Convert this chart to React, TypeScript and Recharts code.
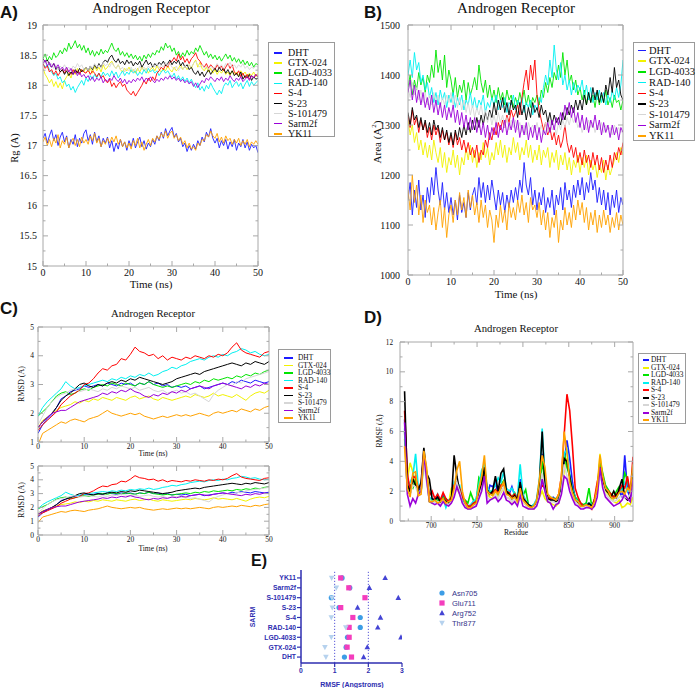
import React from "react";
import { LineChart, Line, XAxis, YAxis, ScatterChart, Scatter, ReferenceLine } from "recharts";

const SERIF = '"Liberation Serif", "Times New Roman", serif';
const SANS = '"Liberation Sans", Arial, sans-serif';

const SARMS = ["DHT", "GTX-024", "LGD-4033", "RAD-140", "S-4", "S-23", "S-101479", "Sarm2f", "YK11"];
const COLORS = ["#1c1cff", "#f2f200", "#00e400", "#00f0f0", "#ff0000", "#000000", "#d6d6d6", "#9a00d8", "#ffa200"];

// sampling grids (time in ns, residue number)
const TIME_HALF = Array.from({ length: 101 }, (_, i) => i / 2);
const TIME_NS = Array.from({ length: 51 }, (_, i) => i);
const RESIDUES = Array.from({ length: 84 }, (_, i) => 671 + 3 * i);

// ---- A) radius of gyration (A), every 0.5 ns
const rgDHT = [
  17.12, 17.20, 17.04, 17.16, 17.26, 17.08, 17.18, 17.00, 17.14, 17.22,
  17.06, 17.16, 16.96, 17.10, 17.02, 17.18, 16.98, 17.12, 17.04, 17.20,
  17.26, 17.08, 17.18, 17.02, 17.22, 17.06, 17.16, 16.98, 17.12, 17.04,
  17.14, 16.96, 17.08, 16.90, 17.04, 16.94, 17.10, 16.98, 17.06, 16.92,
  17.08, 16.98, 17.12, 16.96, 17.06, 17.14, 16.98, 17.08, 16.94, 17.04,
  16.98, 17.10, 17.02, 17.16, 17.08, 17.22, 17.12, 17.28, 17.16, 17.24,
  17.30, 17.14, 17.20, 17.06, 17.12, 16.98, 17.04, 16.90, 17.00, 16.92,
  17.02, 16.94, 17.08, 17.00, 17.14, 17.06, 17.22, 17.14, 17.28, 17.12,
  17.04, 17.12, 16.96, 17.08, 17.00, 17.10, 16.94, 17.06, 16.98, 17.10,
  16.92, 17.04, 16.98, 17.10, 16.96, 17.06, 16.92, 17.02, 16.96, 17.00,
  16.88,
];
const rgGTX = [
  18.28, 18.18, 18.12, 18.04, 18.10, 17.98, 18.06, 17.96, 18.04, 17.94,
  18.08, 18.14, 18.20, 18.12, 18.24, 18.18, 18.28, 18.20, 18.26, 18.22,
  18.30, 18.22, 18.28, 18.20, 18.32, 18.24, 18.30, 18.22, 18.34, 18.26,
  18.30, 18.36, 18.40, 18.32, 18.28, 18.34, 18.26, 18.22, 18.28, 18.24,
  18.30, 18.22, 18.26, 18.20, 18.28, 18.22, 18.30, 18.24, 18.28, 18.20,
  18.26, 18.30, 18.24, 18.32, 18.26, 18.22, 18.28, 18.24, 18.32, 18.26,
  18.22, 18.30, 18.24, 18.28, 18.34, 18.26, 18.32, 18.26, 18.34, 18.28,
  18.36, 18.42, 18.30, 18.38, 18.28, 18.24, 18.30, 18.22, 18.28, 18.20,
  18.26, 18.18, 18.24, 18.20, 18.26, 18.18, 18.22, 18.16, 18.24, 18.18,
  18.22, 18.16, 18.24, 18.18, 18.22, 18.14, 18.20, 18.16, 18.22, 18.14,
  18.20,
];
const rgLGD = [
  18.44, 18.52, 18.40, 18.48, 18.42, 18.54, 18.46, 18.50, 18.58, 18.52,
  18.62, 18.56, 18.70, 18.60, 18.66, 18.74, 18.62, 18.68, 18.58, 18.66,
  18.54, 18.62, 18.50, 18.58, 18.48, 18.56, 18.50, 18.60, 18.52, 18.58,
  18.54, 18.62, 18.70, 18.60, 18.56, 18.62, 18.50, 18.56, 18.48, 18.54,
  18.46, 18.52, 18.44, 18.50, 18.42, 18.48, 18.40, 18.50, 18.44, 18.52,
  18.46, 18.54, 18.50, 18.58, 18.54, 18.64, 18.58, 18.70, 18.62, 18.66,
  18.56, 18.62, 18.50, 18.56, 18.46, 18.54, 18.48, 18.58, 18.50, 18.56,
  18.52, 18.62, 18.56, 18.66, 18.58, 18.50, 18.56, 18.46, 18.52, 18.44,
  18.50, 18.42, 18.48, 18.40, 18.46, 18.52, 18.44, 18.50, 18.40, 18.46,
  18.38, 18.44, 18.36, 18.42, 18.34, 18.40, 18.32, 18.38, 18.30, 18.36,
  18.34,
];
const rgRAD = [
  18.36, 18.30, 18.34, 18.26, 18.22, 18.16, 18.20, 18.10, 18.14, 18.04,
  18.08, 17.98, 18.02, 17.92, 17.98, 17.88, 17.96, 18.02, 18.08, 18.00,
  18.12, 18.06, 18.16, 18.10, 18.18, 18.12, 18.20, 18.14, 18.22, 18.16,
  18.20, 18.14, 18.24, 18.16, 18.22, 18.12, 18.18, 18.24, 18.16, 18.22,
  18.18, 18.26, 18.20, 18.24, 18.16, 18.22, 18.18, 18.26, 18.20, 18.28,
  18.22, 18.26, 18.20, 18.24, 18.16, 18.22, 18.26, 18.20, 18.24, 18.18,
  18.14, 18.20, 18.10, 18.16, 18.08, 18.14, 18.06, 18.12, 18.04, 18.10,
  18.02, 17.96, 18.04, 17.92, 17.98, 17.90, 18.00, 17.94, 18.04, 17.96,
  17.90, 17.84, 17.92, 17.86, 17.98, 18.04, 18.00, 18.08, 17.96, 18.02,
  18.06, 17.98, 18.04, 17.94, 18.02, 18.08, 17.98, 18.06, 18.00, 18.04,
  18.08,
];
const rgS4 = [
  18.36, 18.28, 18.32, 18.22, 18.26, 18.18, 18.24, 18.16, 18.22, 18.26,
  18.20, 18.28, 18.22, 18.18, 18.26, 18.20, 18.24, 18.18, 18.26, 18.22,
  18.20, 18.26, 18.18, 18.24, 18.20, 18.14, 18.20, 18.12, 18.16, 18.08,
  18.04, 18.10, 17.98, 18.04, 17.96, 18.02, 18.06, 17.98, 18.02, 17.92,
  17.88, 17.84, 17.90, 17.82, 17.88, 17.94, 18.00, 18.08, 18.02, 18.12,
  18.06, 18.14, 18.08, 18.20, 18.24, 18.30, 18.26, 18.34, 18.30, 18.38,
  18.40, 18.46, 18.40, 18.52, 18.42, 18.48, 18.38, 18.44, 18.36, 18.44,
  18.48, 18.54, 18.44, 18.40, 18.34, 18.30, 18.36, 18.28, 18.34, 18.30,
  18.26, 18.34, 18.28, 18.32, 18.24, 18.30, 18.36, 18.28, 18.34, 18.22,
  18.18, 18.24, 18.14, 18.20, 18.12, 18.18, 18.10, 18.16, 18.12, 18.18,
  18.14,
];
const rgS23 = [
  18.44, 18.38, 18.42, 18.34, 18.30, 18.36, 18.26, 18.30, 18.22, 18.26,
  18.18, 18.24, 18.16, 18.22, 18.18, 18.26, 18.20, 18.28, 18.22, 18.26,
  18.30, 18.24, 18.32, 18.26, 18.34, 18.28, 18.36, 18.30, 18.38, 18.42,
  18.38, 18.46, 18.50, 18.42, 18.38, 18.44, 18.36, 18.40, 18.34, 18.42,
  18.36, 18.40, 18.32, 18.38, 18.34, 18.40, 18.30, 18.36, 18.42, 18.34,
  18.38, 18.30, 18.36, 18.32, 18.38, 18.34, 18.40, 18.32, 18.36, 18.42,
  18.34, 18.40, 18.36, 18.42, 18.32, 18.38, 18.30, 18.34, 18.26, 18.30,
  18.22, 18.18, 18.24, 18.16, 18.22, 18.14, 18.20, 18.26, 18.18, 18.24,
  18.28, 18.22, 18.30, 18.24, 18.28, 18.20, 18.26, 18.18, 18.24, 18.16,
  18.20, 18.14, 18.22, 18.10, 18.16, 18.12, 18.18, 18.08, 18.14, 18.10,
  18.12,
];
const rgS101 = [
  18.42, 18.36, 18.40, 18.32, 18.36, 18.28, 18.34, 18.26, 18.32, 18.28,
  18.34, 18.26, 18.30, 18.24, 18.32, 18.28, 18.36, 18.30, 18.34, 18.26,
  18.30, 18.24, 18.32, 18.28, 18.36, 18.30, 18.34, 18.28, 18.38, 18.32,
  18.36, 18.30, 18.38, 18.32, 18.28, 18.34, 18.26, 18.30, 18.22, 18.28,
  18.24, 18.30, 18.22, 18.28, 18.24, 18.32, 18.26, 18.30, 18.24, 18.32,
  18.28, 18.34, 18.30, 18.36, 18.28, 18.34, 18.30, 18.38, 18.32, 18.36,
  18.30, 18.26, 18.32, 18.24, 18.30, 18.26, 18.32, 18.28, 18.34, 18.30,
  18.36, 18.40, 18.34, 18.30, 18.34, 18.28, 18.32, 18.26, 18.32, 18.28,
  18.30, 18.36, 18.30, 18.34, 18.28, 18.36, 18.32, 18.38, 18.30, 18.34,
  18.28, 18.34, 18.30, 18.36, 18.28, 18.32, 18.26, 18.30, 18.28, 18.32,
  18.30,
];
const rgSarm = [
  18.36, 18.42, 18.32, 18.38, 18.30, 18.36, 18.28, 18.34, 18.26, 18.30,
  18.24, 18.30, 18.22, 18.28, 18.18, 18.24, 18.16, 18.22, 18.14, 18.18,
  18.12, 18.16, 18.08, 18.14, 18.06, 18.12, 18.08, 18.14, 18.04, 18.10,
  18.06, 18.12, 18.08, 18.16, 18.10, 18.06, 18.12, 18.04, 18.10, 18.02,
  18.08, 18.04, 18.10, 18.06, 18.12, 18.08, 18.14, 18.06, 18.12, 18.08,
  18.14, 18.08, 18.04, 18.10, 18.06, 18.12, 18.08, 18.14, 18.10, 18.16,
  18.10, 18.14, 18.08, 18.12, 18.06, 18.10, 18.04, 18.08, 18.02, 18.06,
  17.98, 18.04, 17.96, 18.02, 18.08, 18.04, 18.12, 18.08, 18.14, 18.10,
  18.06, 18.12, 18.08, 18.14, 18.06, 18.12, 18.08, 18.16, 18.10, 18.06,
  18.12, 18.08, 18.14, 18.06, 18.10, 18.14, 18.08, 18.16, 18.12, 18.18,
  18.14,
];
const rgYK11 = [
  17.06, 17.14, 17.00, 17.10, 16.98, 17.12, 17.04, 17.18, 16.96, 17.08,
  17.02, 17.14, 16.96, 17.06, 17.12, 17.00, 17.10, 16.98, 17.14, 17.04,
  17.10, 17.02, 17.16, 17.08, 17.20, 17.04, 17.12, 16.98, 17.08, 17.02,
  17.12, 17.04, 17.14, 17.06, 17.16, 17.02, 17.10, 16.98, 17.06, 16.96,
  17.04, 16.94, 17.08, 17.00, 17.12, 16.96, 17.06, 16.92, 17.02, 17.10,
  17.00, 17.12, 17.06, 17.16, 17.10, 17.20, 17.14, 17.24, 17.12, 17.20,
  17.24, 17.12, 17.18, 17.08, 17.14, 17.02, 17.08, 16.96, 17.04, 16.94,
  16.98, 16.92, 17.04, 17.00, 17.10, 17.08, 17.18, 17.14, 17.24, 17.16,
  17.12, 17.20, 17.06, 17.14, 17.04, 17.16, 17.08, 17.12, 17.02, 17.10,
  17.04, 17.12, 17.00, 17.08, 17.02, 17.10, 16.98, 17.06, 17.02, 17.08,
  17.02,
];

// ---- B) surface area (A^2), every 0.5 ns
const saDHT = [
  1150, 1185, 1120, 1170, 1135, 1190, 1130, 1160, 1115, 1175,
  1145, 1195, 1160, 1215, 1170, 1140, 1185, 1130, 1165, 1125,
  1155, 1120, 1150, 1110, 1160, 1125, 1145, 1115, 1165, 1130,
  1160, 1175, 1140, 1195, 1155, 1185, 1145, 1180, 1150, 1190,
  1160, 1130, 1170, 1140, 1165, 1125, 1160, 1135, 1170, 1145,
  1175, 1150, 1190, 1165, 1225, 1180, 1160, 1195, 1140, 1170,
  1130, 1165, 1140, 1175, 1125, 1155, 1135, 1170, 1120, 1160,
  1140, 1175, 1130, 1185, 1150, 1170, 1135, 1180, 1155, 1190,
  1160, 1195, 1150, 1185, 1165, 1205, 1170, 1190, 1145, 1175,
  1140, 1170, 1130, 1165, 1120, 1160, 1135, 1170, 1125, 1155,
  1140,
];
const saGTX = [
  1310, 1280, 1300, 1265, 1285, 1250, 1270, 1240, 1265, 1235,
  1260, 1230, 1270, 1245, 1225, 1255, 1215, 1245, 1205, 1235,
  1220, 1250, 1215, 1240, 1200, 1235, 1220, 1255, 1230, 1260,
  1225, 1250, 1215, 1245, 1230, 1265, 1235, 1255, 1220, 1245,
  1230, 1265, 1240, 1270, 1235, 1260, 1225, 1255, 1240, 1275,
  1245, 1265, 1230, 1255, 1240, 1270, 1235, 1260, 1225, 1250,
  1230, 1260, 1220, 1250, 1235, 1255, 1215, 1245, 1225, 1250,
  1210, 1240, 1220, 1245, 1210, 1235, 1200, 1230, 1215, 1240,
  1205, 1235, 1215, 1240, 1200, 1230, 1210, 1225, 1195, 1220,
  1205, 1230, 1190, 1220, 1200, 1215, 1230, 1245, 1225, 1255,
  1240,
];
const saLGD = [
  1375, 1400, 1360, 1390, 1370, 1405, 1380, 1395, 1365, 1400,
  1385, 1420, 1395, 1450, 1405, 1430, 1390, 1440, 1375, 1410,
  1390, 1360, 1395, 1355, 1380, 1365, 1390, 1350, 1385, 1360,
  1375, 1395, 1370, 1420, 1385, 1365, 1390, 1355, 1380, 1350,
  1370, 1345, 1375, 1350, 1365, 1340, 1370, 1350, 1360, 1335,
  1355, 1340, 1365, 1345, 1370, 1340, 1360, 1335, 1355, 1345,
  1360, 1340, 1370, 1355, 1385, 1365, 1395, 1375, 1405, 1390,
  1420, 1395, 1445, 1400, 1430, 1385, 1400, 1370, 1390, 1360,
  1375, 1350, 1370, 1340, 1365, 1345, 1360, 1335, 1365, 1340,
  1360, 1345, 1370, 1340, 1355, 1335, 1360, 1345, 1350, 1330,
  1350,
];
const saRAD = [
  1400, 1430, 1395, 1445, 1410, 1425, 1385, 1400, 1370, 1385,
  1355, 1375, 1345, 1365, 1340, 1370, 1350, 1365, 1335, 1360,
  1345, 1365, 1335, 1355, 1340, 1360, 1330, 1350, 1340, 1365,
  1335, 1355, 1330, 1350, 1340, 1360, 1325, 1345, 1335, 1355,
  1340, 1360, 1330, 1350, 1335, 1355, 1325, 1345, 1340, 1360,
  1330, 1350, 1340, 1355, 1325, 1345, 1335, 1350, 1320, 1340,
  1330, 1355, 1345, 1375, 1400, 1380, 1430, 1395, 1460, 1410,
  1390, 1425, 1380, 1400, 1370, 1390, 1360, 1385, 1365, 1380,
  1370, 1390, 1355, 1380, 1350, 1375, 1345, 1365, 1350, 1370,
  1345, 1365, 1340, 1360, 1345, 1370, 1350, 1375, 1355, 1380,
  1430,
];
const saS4 = [
  1320, 1295, 1330, 1300, 1315, 1285, 1310, 1290, 1305, 1275,
  1295, 1270, 1300, 1280, 1295, 1265, 1290, 1270, 1285, 1260,
  1280, 1255, 1285, 1260, 1275, 1250, 1270, 1245, 1265, 1240,
  1255, 1235, 1260, 1225, 1250, 1240, 1270, 1255, 1285, 1270,
  1295, 1280, 1305, 1290, 1310, 1295, 1320, 1305, 1330, 1315,
  1325, 1340, 1320, 1355, 1385, 1410, 1370, 1420, 1390, 1430,
  1360, 1330, 1310, 1290, 1305, 1280, 1295, 1270, 1285, 1260,
  1280, 1255, 1270, 1300, 1265, 1245, 1260, 1235, 1255, 1225,
  1245, 1220, 1250, 1225, 1240, 1215, 1245, 1220, 1240, 1210,
  1235, 1205, 1230, 1210, 1240, 1215, 1245, 1230, 1255, 1240,
  1265,
];
const saS23 = [
  1325, 1300, 1335, 1310, 1320, 1295, 1315, 1290, 1310, 1285,
  1305, 1280, 1310, 1290, 1300, 1275, 1295, 1270, 1290, 1265,
  1285, 1260, 1290, 1270, 1295, 1275, 1300, 1280, 1305, 1285,
  1310, 1290, 1315, 1295, 1320, 1300, 1325, 1310, 1330, 1315,
  1345, 1320, 1350, 1330, 1355, 1325, 1345, 1320, 1350, 1330,
  1340, 1315, 1345, 1320, 1340, 1310, 1335, 1315, 1345, 1325,
  1335, 1315, 1340, 1320, 1330, 1305, 1325, 1300, 1320, 1305,
  1315, 1300, 1325, 1310, 1335, 1320, 1340, 1325, 1350, 1330,
  1350, 1330, 1360, 1340, 1365, 1345, 1375, 1350, 1370, 1345,
  1365, 1345, 1380, 1360, 1395, 1365, 1415, 1375, 1390, 1360,
  1350,
];
const saS101 = [
  1375, 1355, 1385, 1360, 1375, 1350, 1370, 1345, 1365, 1340,
  1360, 1340, 1365, 1345, 1360, 1335, 1355, 1340, 1360, 1345,
  1365, 1340, 1360, 1335, 1355, 1330, 1350, 1325, 1345, 1320,
  1340, 1315, 1335, 1320, 1340, 1315, 1330, 1305, 1325, 1300,
  1320, 1300, 1325, 1305, 1320, 1295, 1315, 1290, 1310, 1295,
  1310, 1290, 1305, 1285, 1300, 1280, 1305, 1290, 1300, 1285,
  1305, 1285, 1300, 1280, 1305, 1285, 1310, 1290, 1300, 1280,
  1305, 1290, 1310, 1295, 1315, 1300, 1320, 1305, 1315, 1295,
  1305, 1285, 1300, 1290, 1310, 1295, 1305, 1285, 1300, 1290,
  1305, 1285, 1300, 1290, 1295, 1280, 1300, 1285, 1295, 1285,
  1290,
];
const saSarm = [
  1365, 1390, 1350, 1380, 1345, 1370, 1340, 1365, 1335, 1355,
  1330, 1360, 1325, 1350, 1320, 1345, 1315, 1340, 1310, 1335,
  1315, 1340, 1305, 1330, 1300, 1325, 1295, 1320, 1290, 1315,
  1290, 1315, 1285, 1310, 1280, 1305, 1275, 1300, 1270, 1295,
  1280, 1305, 1275, 1300, 1285, 1310, 1280, 1305, 1290, 1315,
  1285, 1310, 1275, 1300, 1280, 1305, 1270, 1295, 1275, 1300,
  1270, 1295, 1265, 1290, 1280, 1305, 1285, 1310, 1290, 1315,
  1300, 1325, 1310, 1340, 1320, 1345, 1315, 1335, 1305, 1325,
  1295, 1320, 1290, 1315, 1285, 1310, 1295, 1320, 1290, 1310,
  1280, 1305, 1285, 1300, 1275, 1300, 1280, 1295, 1270, 1295,
  1285,
];
const saYK11 = [
  1170, 1130, 1200, 1145, 1180, 1120, 1160, 1105, 1150, 1125,
  1140, 1100, 1135, 1090, 1125, 1150, 1095, 1135, 1075, 1120,
  1140, 1105, 1150, 1120, 1165, 1130, 1155, 1115, 1170, 1135,
  1160, 1120, 1145, 1105, 1150, 1115, 1140, 1095, 1130, 1110,
  1065, 1120, 1095, 1140, 1105, 1130, 1090, 1145, 1115, 1135,
  1110, 1150, 1125, 1160, 1120, 1145, 1105, 1155, 1130, 1140,
  1115, 1145, 1100, 1130, 1090, 1125, 1075, 1115, 1095, 1130,
  1065, 1110, 1090, 1135, 1100, 1125, 1095, 1140, 1110, 1150,
  1120, 1145, 1105, 1135, 1090, 1125, 1100, 1130, 1085, 1120,
  1095, 1130, 1100, 1120, 1085, 1115, 1095, 1125, 1090, 1120,
  1100,
];

// ---- C) backbone RMSD (A), every 1 ns
const rmsdDHT = [
  1.30, 1.60, 1.80, 1.95, 2.20, 2.50, 2.60, 2.75, 2.80, 2.85,
  2.95, 2.90, 2.95, 3.00, 2.95, 3.05, 3.00, 2.95, 3.05, 3.00,
  3.05, 2.95, 3.05, 3.00, 3.10, 3.00, 3.05, 2.95, 3.00, 2.90,
  2.95, 2.90, 2.95, 2.85, 2.90, 2.95, 2.85, 2.90, 2.95, 3.00,
  3.05, 3.00, 3.10, 3.05, 3.15, 3.10, 3.05, 3.15, 3.10, 3.05,
  3.10,
];
const rmsdGTX = [
  1.50, 1.75, 1.85, 2.00, 2.10, 2.20, 2.25, 2.30, 2.40, 2.35,
  2.45, 2.40, 2.50, 2.45, 2.55, 2.50, 2.45, 2.55, 2.50, 2.45,
  2.55, 2.60, 2.50, 2.55, 2.60, 2.50, 2.45, 2.55, 2.50, 2.45,
  2.50, 2.55, 2.60, 2.55, 2.65, 2.60, 2.55, 2.60, 2.70, 2.60,
  2.65, 2.60, 2.55, 2.65, 2.55, 2.45, 2.60, 2.70, 2.75, 2.70,
  2.80,
];
const rmsdLGD = [
  1.90, 2.05, 2.20, 2.40, 2.60, 2.70, 2.75, 2.65, 2.70, 2.80,
  2.85, 2.80, 2.90, 2.95, 3.00, 2.95, 3.05, 3.00, 2.95, 3.05,
  3.00, 2.95, 3.05, 3.00, 3.10, 3.00, 2.95, 2.90, 2.95, 2.90,
  2.95, 3.00, 3.05, 3.00, 3.10, 3.05, 3.15, 3.10, 3.20, 3.15,
  3.20, 3.25, 3.20, 3.30, 3.25, 3.35, 3.30, 3.40, 3.35, 3.45,
  3.50,
];
const rmsdRAD = [
  1.90, 2.20, 2.40, 2.55, 2.70, 2.85, 3.10, 2.95, 2.85, 2.90,
  2.95, 3.00, 3.05, 3.10, 3.15, 3.10, 3.20, 3.15, 3.25, 3.20,
  3.30, 3.25, 3.35, 3.30, 3.40, 3.30, 3.35, 3.45, 3.50, 3.60,
  3.55, 3.65, 3.70, 3.80, 3.85, 3.90, 3.85, 3.95, 4.00, 3.95,
  4.05, 4.00, 4.10, 4.15, 4.25, 4.20, 4.10, 4.15, 4.05, 4.00,
  4.05,
];
const rmsdS4 = [
  1.40, 1.60, 1.75, 1.90, 2.05, 2.30, 2.45, 2.60, 2.70, 2.80,
  3.00, 3.05, 3.20, 3.40, 3.55, 3.50, 3.65, 3.70, 3.90, 3.85,
  4.05, 4.30, 4.15, 4.10, 4.00, 4.05, 3.90, 4.00, 3.85, 3.95,
  3.90, 3.85, 3.95, 3.90, 4.00, 3.95, 3.90, 4.00, 3.95, 4.05,
  4.00, 4.10, 4.30, 4.45, 4.20, 4.10, 4.05, 4.00, 3.95, 4.10,
  4.15,
];
const rmsdS23 = [
  1.50, 1.70, 1.85, 2.00, 2.20, 2.45, 2.60, 2.70, 2.85, 3.00,
  3.05, 2.95, 2.90, 3.00, 2.95, 3.05, 3.10, 3.05, 3.15, 3.10,
  3.20, 3.15, 3.25, 3.20, 3.15, 3.10, 3.05, 3.00, 3.05, 3.10,
  3.20, 3.25, 3.30, 3.35, 3.40, 3.35, 3.45, 3.50, 3.55, 3.60,
  3.65, 3.70, 3.75, 3.70, 3.65, 3.75, 3.70, 3.80, 3.75, 3.70,
  3.80,
];
const rmsdS101 = [
  1.60, 1.90, 2.20, 2.40, 2.55, 2.65, 2.70, 2.80, 2.85, 2.75,
  2.80, 2.85, 2.80, 2.75, 2.85, 2.80, 2.90, 2.85, 2.95, 2.90,
  2.85, 2.90, 2.80, 2.85, 2.90, 2.80, 2.75, 2.80, 2.70, 2.75,
  2.80, 2.70, 2.75, 2.65, 2.70, 2.60, 2.50, 2.40, 2.65, 2.80,
  2.90, 3.00, 2.95, 3.10, 3.05, 3.20, 3.25, 3.30, 3.35, 3.40,
  3.45,
];
const rmsdSarm = [
  1.50, 1.70, 1.85, 2.00, 2.05, 2.10, 2.10, 2.20, 2.30, 2.40,
  2.45, 2.50, 2.55, 2.60, 2.70, 2.65, 2.75, 2.70, 2.80, 2.75,
  2.85, 2.75, 2.70, 2.60, 2.55, 2.65, 2.60, 2.70, 2.65, 2.75,
  2.70, 2.80, 2.75, 2.85, 2.90, 2.95, 2.90, 2.85, 2.95, 3.00,
  3.05, 3.00, 2.95, 2.90, 2.85, 2.95, 2.90, 3.00, 2.95, 3.05,
  3.00,
];
const rmsdYK11 = [
  0.90, 1.30, 1.40, 1.50, 1.60, 1.70, 1.65, 1.75, 1.80, 1.75,
  1.70, 1.80, 1.85, 1.90, 2.00, 2.10, 2.00, 1.95, 1.90, 1.95,
  2.00, 1.95, 2.00, 1.90, 1.85, 1.80, 1.85, 1.90, 1.85, 1.90,
  1.95, 1.90, 1.95, 1.90, 1.95, 2.00, 1.95, 1.90, 2.00, 2.05,
  2.00, 2.05, 2.10, 2.05, 2.15, 2.10, 2.05, 2.15, 2.10, 2.20,
  2.25,
];

// ---- D) per-residue RMSF (A), every 3rd residue from 671
const rmsfDHT = [
  6.8, 2.6, 1.8, 2.6, 3.0, 2.0, 2.3, 4.4, 3.2, 1.5, 1.4, 1.5,
  1.6, 1.2, 1.7, 1.3, 1.4, 1.3, 2.2, 2.4, 2.0, 1.4, 1.1, 0.9,
  1.0, 1.3, 1.2, 2.1, 2.6, 3.2, 1.6, 2.4, 2.3, 2.6, 1.8, 2.2,
  2.6, 1.9, 1.8, 2.3, 1.7, 1.5, 2.8, 1.5, 1.2, 1.0, 0.9, 1.0,
  1.4, 2.5, 4.5, 2.6, 1.7, 1.5, 1.6, 1.4, 1.6, 2.2, 4.0, 5.4,
  4.2, 2.6, 1.5, 1.3, 1.0, 1.0, 1.2, 1.1, 1.0, 1.4, 2.1, 3.4,
  2.8, 2.1, 1.9, 1.6, 1.5, 1.7, 2.0, 1.6, 4.4, 2.0, 1.6, 2.8,
];
const rmsfGTX = [
  5.5, 2.8, 3.9, 3.3, 2.6, 1.8, 2.0, 4.2, 3.4, 1.5, 1.3, 1.4,
  1.2, 1.3, 1.5, 1.3, 1.2, 2.2, 2.3, 2.2, 1.8, 1.3, 1.0, 0.8,
  0.8, 1.2, 1.4, 1.9, 2.7, 3.6, 1.8, 1.6, 1.5, 1.9, 1.6, 1.9,
  2.2, 1.6, 1.5, 1.3, 1.6, 1.2, 2.0, 1.3, 1.1, 0.9, 0.8, 0.8,
  1.1, 1.6, 2.0, 1.5, 1.3, 1.2, 1.1, 1.0, 1.2, 2.0, 3.4, 4.2,
  3.0, 1.8, 1.4, 1.2, 1.0, 0.9, 1.0, 0.9, 0.9, 1.1, 1.8, 4.5,
  3.0, 2.0, 1.8, 1.5, 1.3, 1.2, 1.4, 0.9, 1.0, 1.2, 1.1, 1.6,
];
const rmsfLGD = [
  6.0, 2.0, 2.4, 2.2, 2.8, 1.9, 2.0, 4.0, 3.0, 1.3, 1.2, 1.5,
  1.4, 1.4, 1.6, 1.5, 1.3, 1.6, 2.3, 2.6, 2.1, 1.6, 1.4, 1.2,
  1.9, 1.4, 1.3, 2.9, 2.6, 3.3, 2.0, 2.0, 1.8, 2.1, 1.8, 2.4,
  2.7, 1.9, 1.8, 1.6, 1.9, 1.5, 2.4, 1.7, 2.1, 1.1, 1.0, 1.1,
  1.4, 2.3, 4.0, 2.6, 1.6, 1.6, 1.5, 1.5, 1.6, 2.4, 4.6, 3.6,
  3.0, 2.2, 1.6, 1.4, 1.2, 1.1, 1.2, 2.2, 1.0, 1.4, 2.2, 4.0,
  3.2, 2.4, 2.1, 1.8, 1.6, 2.0, 2.3, 2.1, 3.2, 2.8, 1.8, 2.6,
];
const rmsfRAD = [
  6.2, 2.3, 2.6, 3.0, 4.5, 2.2, 2.3, 4.3, 3.1, 1.6, 1.4, 1.3,
  1.8, 1.4, 1.5, 0.9, 1.4, 1.5, 2.6, 2.3, 2.4, 1.5, 1.2, 1.0,
  1.1, 1.3, 1.5, 2.4, 3.4, 3.8, 2.3, 1.9, 2.1, 2.4, 2.9, 2.6,
  3.3, 2.2, 2.0, 2.2, 1.8, 1.6, 3.8, 1.8, 1.4, 1.1, 1.0, 1.1,
  1.5, 2.8, 6.2, 3.0, 1.7, 1.6, 1.5, 1.4, 1.7, 2.3, 4.5, 4.8,
  3.1, 2.1, 1.5, 1.3, 1.1, 1.0, 1.1, 1.2, 1.1, 1.3, 2.0, 3.3,
  2.9, 2.2, 2.0, 1.7, 1.5, 1.6, 1.9, 2.1, 2.6, 2.0, 2.2, 3.0,
];
const rmsfS4 = [
  7.4, 3.2, 2.0, 3.0, 2.9, 2.2, 2.4, 4.6, 3.0, 1.7, 2.0, 1.5,
  1.8, 1.4, 1.9, 1.5, 1.3, 1.6, 2.4, 2.6, 2.2, 1.6, 1.3, 1.0,
  1.0, 1.2, 1.3, 2.0, 2.5, 3.0, 2.0, 1.8, 1.9, 2.1, 1.9, 2.4,
  2.5, 2.0, 1.9, 1.6, 1.8, 1.5, 2.4, 1.6, 1.3, 1.0, 0.9, 1.0,
  1.3, 2.0, 2.4, 2.2, 1.6, 1.5, 1.5, 1.4, 1.8, 3.0, 5.8, 8.5,
  7.4, 5.0, 2.2, 1.6, 1.2, 1.0, 1.0, 1.0, 0.8, 1.5, 2.6, 3.4,
  2.9, 2.2, 2.0, 1.8, 1.6, 1.8, 2.0, 2.4, 2.2, 3.0, 1.8, 4.3,
];
const rmsfS23 = [
  8.7, 2.4, 2.0, 2.8, 2.4, 2.1, 2.6, 4.9, 3.2, 2.8, 1.5, 1.4,
  1.6, 1.3, 1.5, 1.3, 1.2, 1.4, 4.4, 3.0, 2.0, 1.3, 1.0, 0.9,
  0.9, 1.1, 1.2, 1.8, 2.4, 3.6, 2.1, 1.8, 2.0, 3.0, 2.0, 3.2,
  3.5, 2.0, 1.8, 1.5, 1.7, 1.4, 2.6, 1.5, 1.3, 1.1, 1.0, 0.9,
  1.3, 2.5, 6.0, 2.4, 1.5, 1.4, 1.4, 1.3, 1.4, 2.2, 4.2, 4.0,
  3.0, 2.0, 1.4, 1.2, 1.0, 1.0, 1.0, 1.2, 1.0, 1.3, 2.0, 3.6,
  2.8, 2.1, 1.9, 1.6, 2.0, 1.6, 2.2, 2.8, 1.6, 1.4, 1.6, 3.6,
];
const rmsfS101 = [
  5.0, 2.0, 1.8, 2.4, 2.3, 1.8, 2.0, 3.8, 2.6, 1.4, 1.2, 1.3,
  1.3, 1.1, 1.4, 1.2, 1.1, 1.3, 2.0, 2.6, 2.0, 1.3, 1.0, 0.8,
  0.8, 1.0, 1.1, 1.6, 2.2, 2.8, 1.6, 1.4, 1.5, 1.8, 1.5, 2.0,
  2.2, 1.6, 1.5, 1.3, 1.5, 1.2, 2.0, 1.3, 1.1, 0.9, 0.8, 0.9,
  1.1, 1.8, 3.2, 2.0, 1.4, 1.3, 1.3, 1.2, 1.3, 2.0, 3.8, 3.0,
  2.4, 1.8, 1.3, 1.1, 0.9, 0.9, 1.0, 1.0, 0.9, 1.2, 1.8, 3.0,
  2.4, 1.8, 1.6, 1.4, 1.3, 1.4, 1.6, 1.7, 1.6, 1.5, 1.8, 2.4,
];
const rmsfSarm = [
  6.6, 1.8, 1.0, 1.5, 1.2, 1.8, 2.0, 4.5, 2.8, 1.3, 1.2, 1.1,
  1.2, 1.0, 1.3, 1.1, 1.0, 1.2, 1.6, 2.3, 1.8, 1.2, 0.9, 0.8,
  0.8, 0.9, 1.0, 1.5, 2.0, 3.0, 1.2, 1.4, 1.5, 1.6, 1.3, 1.5,
  1.9, 1.4, 1.3, 1.1, 1.3, 1.0, 1.7, 1.0, 0.9, 0.8, 0.8, 0.8,
  1.0, 1.6, 2.8, 2.0, 1.3, 1.2, 0.8, 1.1, 1.2, 1.8, 3.0, 2.8,
  2.0, 1.5, 1.1, 1.0, 0.8, 0.8, 0.9, 0.9, 0.8, 1.0, 1.6, 3.6,
  2.2, 1.6, 1.4, 1.2, 1.0, 1.1, 1.2, 1.4, 1.8, 1.5, 1.3, 2.8,
];
const rmsfYK11 = [
  5.0, 2.2, 1.6, 3.2, 3.3, 1.7, 1.8, 4.7, 3.6, 1.3, 1.3, 1.4,
  1.2, 1.3, 1.5, 1.2, 1.3, 1.4, 2.2, 3.4, 4.0, 2.0, 1.2, 0.9,
  0.9, 1.1, 1.2, 2.2, 3.0, 4.4, 2.0, 1.8, 1.7, 2.0, 1.8, 2.2,
  2.6, 1.8, 1.7, 1.5, 1.6, 1.3, 2.2, 1.4, 1.2, 1.0, 0.9, 1.0,
  1.4, 2.8, 4.4, 3.6, 1.8, 1.6, 1.5, 1.4, 1.8, 3.0, 6.0, 4.6,
  2.6, 1.9, 1.4, 1.3, 1.0, 1.0, 1.1, 1.0, 0.9, 1.3, 2.3, 4.4,
  3.0, 2.2, 2.0, 1.6, 1.5, 1.6, 1.9, 2.0, 1.8, 2.2, 2.0, 3.8,
];

// ---- E) RMSF of key binding-site residues, order as SARMS (DHT .. YK11)
const asn705 = [1.29, 1.34, 1.38, 1.76, 1.76, 1.13, 0.90, 1.45, 1.22];
const glu711 = [1.50, 1.37, 1.43, 1.43, 1.54, 1.18, 1.90, 1.42, 1.18];
const arg752 = [1.86, 1.97, 2.97, 2.28, 2.36, 1.68, 2.89, 2.03, 2.50];
const thr877 = [0.74, 0.71, 0.90, 1.33, 0.90, 0.93, 0.92, 1.05, 0.91];

const range = (a: number, b: number, s: number) =>
  Array.from({ length: Math.round((b - a) / s) + 1 }, (_, i) => +(a + i * s).toFixed(4));

const toRows = (xs: number[], key: string, series: number[][]) =>
  xs.map((x, i) => {
    const r: any = { [key]: x };
    SARMS.forEach((s, k) => (r[s] = series[k][i]));
    return r;
  });

const rgRows = toRows(TIME_HALF, "t", [rgDHT, rgGTX, rgLGD, rgRAD, rgS4, rgS23, rgS101, rgSarm, rgYK11]);
const saRows = toRows(TIME_HALF, "t", [saDHT, saGTX, saLGD, saRAD, saS4, saS23, saS101, saSarm, saYK11]);
const rmsdRows = toRows(TIME_NS, "t", [rmsdDHT, rmsdGTX, rmsdLGD, rmsdRAD, rmsdS4, rmsdS23, rmsdS101, rmsdSarm, rmsdYK11]);
const rmsfRows = toRows(RESIDUES, "res", [rmsfDHT, rmsfGTX, rmsfLGD, rmsfRAD, rmsfS4, rmsfS23, rmsfS101, rmsfSarm, rmsfYK11]);

const FRAME = "#a8a8a8";
const isStep = (v: number, s: number) => Math.abs(v / s - Math.round(v / s)) < 1e-6;

function Txt({ x, y, size, children, font = SERIF, bold = false, rot = false, color = "#111" }: any) {
  return (
    <div
      style={{
        position: "absolute", left: x, top: y, whiteSpace: "nowrap", lineHeight: 1,
        transform: `translate(-50%, -50%)${rot ? " rotate(-90deg)" : ""}`,
        fontSize: size, fontFamily: font, fontWeight: bold ? 700 : 400, color,
      }}
    >
      {children}
    </div>
  );
}

// axes are 1px wide/high (recharts skips 0-size axes); margins take 1px off so the plot box stays exact
function GracePanel({ box, pad, rows, xKey, xDomain, yDomain, xTicks, xStep, yTicks, yStep, fs, gx, gy, sw }: any) {
  const L = pad.l, T = pad.t, R = pad.l + box.w, B = pad.t + box.h;
  const lab = { fontFamily: SERIF, fontSize: fs, fill: "#111" };
  const fmt = (v: number) => (Number.isInteger(v) ? String(v) : v.toFixed(1));
  const left = (p: any) => {
    const maj = isStep(p.payload.value, yStep);
    return (
      <g>
        <line x1={L} x2={L + (maj ? 5 : 2.5)} y1={p.y} y2={p.y} stroke={FRAME} />
        {maj && <text x={L - gy} y={p.y} dy="0.35em" textAnchor="end" {...lab}>{fmt(p.payload.value)}</text>}
      </g>
    );
  };
  const right = (p: any) => (
    <line x1={R} x2={R - (isStep(p.payload.value, yStep) ? 5 : 2.5)} y1={p.y} y2={p.y} stroke={FRAME} />
  );
  const bottom = (p: any) => {
    const maj = isStep(p.payload.value, xStep);
    return (
      <g>
        <line x1={p.x} x2={p.x} y1={B} y2={B - (maj ? 5 : 2.5)} stroke={FRAME} />
        {maj && <text x={p.x} y={B + gx} dy="0.71em" textAnchor="middle" {...lab}>{fmt(p.payload.value)}</text>}
      </g>
    );
  };
  const top = (p: any) => (
    <line x1={p.x} x2={p.x} y1={T} y2={T + (isStep(p.payload.value, xStep) ? 5 : 2.5)} stroke={FRAME} />
  );
  return (
    <div style={{ position: "absolute", left: box.l - pad.l, top: box.t - pad.t }}>
      <LineChart width={box.w + pad.l + pad.r} height={box.h + pad.t + pad.b} data={rows}
        margin={{ top: T - 1, right: pad.r - 1, bottom: pad.b - 1, left: L - 1 }}>
        <XAxis dataKey={xKey} type="number" domain={xDomain} ticks={xTicks} interval={0} height={1}
          allowDataOverflow axisLine={{ stroke: FRAME }} tickLine={false} tick={bottom} />
        <XAxis xAxisId="top" orientation="top" dataKey={xKey} type="number" domain={xDomain} ticks={xTicks}
          interval={0} height={1} allowDataOverflow axisLine={{ stroke: FRAME }} tickLine={false} tick={top} />
        <YAxis type="number" domain={yDomain} ticks={yTicks} interval={0} width={1} allowDataOverflow
          axisLine={{ stroke: FRAME }} tickLine={false} tick={left} />
        <YAxis yAxisId="right" orientation="right" type="number" domain={yDomain} ticks={yTicks} interval={0}
          width={1} allowDataOverflow axisLine={{ stroke: FRAME }} tickLine={false} tick={right} />
        {SARMS.map((s, k) => (
          <Line key={s} dataKey={s} type="linear" stroke={COLORS[k]} strokeWidth={sw} dot={false}
            isAnimationActive={false} />
        ))}
      </LineChart>
    </div>
  );
}

function SeriesLegend({ l, t, w, h, row0, step, fs, lx, lw, lt, tx }: any) {
  return (
    <div style={{ position: "absolute", left: l, top: t, width: w, height: h, border: "1px solid #9a9a9a",
      boxSizing: "border-box", background: "#fff" }}>
      {SARMS.map((s, k) => (
        <div key={s} style={{ position: "absolute", left: 0, top: row0 + k * step }}>
          <div style={{ position: "absolute", left: lx, top: -lt / 2, width: lw, height: lt, background: COLORS[k] }} />
          <div style={{ position: "absolute", left: tx, top: 0, transform: "translateY(-50%)", fontSize: fs,
            fontFamily: SERIF, lineHeight: 1, whiteSpace: "nowrap", color: "#111" }}>{s}</div>
        </div>
      ))}
    </div>
  );
}

const E_BLUE = "#2e2eb0";
const shapes: Record<string, (p: any) => any> = {
  circle: (p) => <circle cx={p.cx} cy={p.cy} r={2.6} fill="#3d9de6" />,
  square: (p) => <rect x={p.cx - 2.6} y={p.cy - 2.6} width={5.2} height={5.2} fill="#f43dbd" />,
  up: (p) => <polygon points={`${p.cx},${p.cy - 3} ${p.cx - 2.8},${p.cy + 2.2} ${p.cx + 2.8},${p.cy + 2.2}`} fill="#4444d4" />,
  down: (p) => <polygon points={`${p.cx},${p.cy + 3} ${p.cx - 2.8},${p.cy - 2.2} ${p.cx + 2.8},${p.cy - 2.2}`} fill="#b6d2ee" />,
};
const E_SERIES = [
  { name: "Asn705", vals: asn705, shape: "circle" },
  { name: "Glu711", vals: glu711, shape: "square" },
  { name: "Arg752", vals: arg752, shape: "up" },
  { name: "Thr877", vals: thr877, shape: "down" },
];

function PanelE() {
  const box = { l: 301, t: 570, w: 101, h: 93 };
  const pad = { l: 60, t: 4, r: 6, b: 14 };
  const L = pad.l, B = pad.t + box.h;
  const lab = { fontFamily: SANS, fontSize: 6.8, fontWeight: 700, fill: E_BLUE };
  return (
    <>
      <div style={{ position: "absolute", left: box.l - pad.l, top: box.t - pad.t }}>
        <ScatterChart width={box.w + pad.l + pad.r} height={box.h + pad.t + pad.b}
          margin={{ top: pad.t, right: pad.r, bottom: pad.b - 1, left: pad.l - 1 }}>
          <XAxis dataKey="x" type="number" domain={[0, 3]} ticks={[0, 1, 2, 3]} interval={0} height={1}
            allowDataOverflow axisLine={{ stroke: E_BLUE, strokeWidth: 1.5 }} tickLine={false}
            tick={(p: any) => (
              <g>
                <line x1={p.x} x2={p.x} y1={B} y2={B + 4} stroke={E_BLUE} strokeWidth={1.2} />
                <text x={p.x} y={B + 5} dy="0.71em" textAnchor="middle" {...lab}>{p.payload.value}</text>
              </g>
            )} />
          <YAxis dataKey="y" type="number" domain={[-0.6, 8.8]} ticks={[0, 1, 2, 3, 4, 5, 6, 7, 8]} interval={0}
            width={1} allowDataOverflow axisLine={{ stroke: E_BLUE, strokeWidth: 1.5 }} tickLine={false}
            tick={(p: any) => (
              <g>
                <line x1={L - 4} x2={L} y1={p.y} y2={p.y} stroke={E_BLUE} strokeWidth={1.2} />
                <text x={L - 5} y={p.y} dy="0.35em" textAnchor="end" {...lab}>{SARMS[p.payload.value]}</text>
              </g>
            )} />
          <ReferenceLine x={1} stroke="#5858d8" strokeDasharray="1.2 1.8" />
          <ReferenceLine x={2} stroke="#5858d8" strokeDasharray="1.2 1.8" />
          {E_SERIES.map((s) => (
            <Scatter key={s.name} name={s.name} data={SARMS.map((_, i) => ({ x: s.vals[i], y: i }))}
              shape={shapes[s.shape]} isAnimationActive={false} />
          ))}
        </ScatterChart>
      </div>
      <svg style={{ position: "absolute", left: 436, top: 586 }} width={60} height={44}>
        {E_SERIES.map((s, i) => (
          <g key={s.name}>
            {shapes[s.shape]({ cx: 6, cy: 7 + i * 10 })}
            <text x={16} y={7 + i * 10} dy="0.35em" fontFamily={SANS} fontSize={7.5} fill="#34348a">{s.name}</text>
          </g>
        ))}
      </svg>
      <Txt x={259} y={561} size={16} font={SANS} bold>E)</Txt>
      <Txt x={252} y={617} size={7} font={SANS} bold rot color={E_BLUE}>SARM</Txt>
      <Txt x={352} y={684} size={7} font={SANS} bold color={E_BLUE}>RMSF (Angstroms)</Txt>
    </>
  );
}

export default function App() {
  const x10 = range(0, 50, 5);
  return (
    <div style={{ position: "absolute", left: 0, top: 0, width: 700, height: 688, background: "#fff", overflow: "hidden" }}>
      {/* A */}
      <GracePanel box={{ l: 43, t: 25, w: 215, h: 241 }} pad={{ l: 43, t: 6, r: 6, b: 20 }} rows={rgRows} xKey="t"
        xDomain={[0, 50]} yDomain={[15, 19]} xTicks={x10} xStep={10} yTicks={range(15, 19, 0.25)} yStep={0.5}
        fs={10} gx={3} gy={6} sw={0.9} />
      <SeriesLegend l={268} t={42} w={67} h={95} row0={10} step={10.1} fs={10} lx={5} lw={8} lt={1.5} tx={19} />
      <Txt x={9} y={12} size={17} font={SANS} bold>A)</Txt>
      <Txt x={151} y={8} size={15}>Androgen Receptor</Txt>
      <Txt x={15} y={148} size={10.5} rot>Rg (A)</Txt>
      <Txt x={151} y={284} size={11}>Time (ns)</Txt>

      {/* B */}
      <GracePanel box={{ l: 408, t: 25, w: 215, h: 250 }} pad={{ l: 45, t: 6, r: 6, b: 20 }} rows={saRows} xKey="t"
        xDomain={[0, 50]} yDomain={[1000, 1500]} xTicks={x10} xStep={10} yTicks={range(1000, 1500, 50)} yStep={100}
        fs={10} gx={3} gy={8} sw={0.9} />
      <SeriesLegend l={633} t={42} w={62} h={99} row0={7.5} step={10.7} fs={10.5} lx={4} lw={8} lt={1.5} tx={15} />
      <Txt x={373} y={12} size={17} font={SANS} bold>B)</Txt>
      <Txt x={516} y={8} size={15}>Androgen Receptor</Txt>
      <Txt x={377} y={142} size={11} rot>
        Area (A<sup style={{ fontSize: 7 }}>2</sup>)
      </Txt>
      <Txt x={516} y={294} size={11}>Time (ns)</Txt>

      {/* C */}
      <GracePanel box={{ l: 38, t: 327, w: 231, h: 115 }} pad={{ l: 38, t: 4, r: 6, b: 14 }} rows={rmsdRows} xKey="t"
        xDomain={[0, 50]} yDomain={[1, 5]} xTicks={x10} xStep={10} yTicks={range(1, 5, 0.5)} yStep={1}
        fs={7.5} gx={1.5} gy={4} sw={1} />
      <GracePanel box={{ l: 38, t: 466, w: 231, h: 69 }} pad={{ l: 38, t: 4, r: 6, b: 14 }} rows={rmsdRows} xKey="t"
        xDomain={[0, 50]} yDomain={[0, 5]} xTicks={x10} xStep={10} yTicks={range(0, 5, 0.5)} yStep={1}
        fs={7.5} gx={1.5} gy={4} sw={1} />
      <SeriesLegend l={278} t={349} w={53} h={74} row0={8} step={7.5} fs={7.4} lx={5} lw={9} lt={1.3} tx={19} />
      <Txt x={9} y={308} size={17} font={SANS} bold>C)</Txt>
      <Txt x={153} y={313} size={10.7}>Androgen Receptor</Txt>
      <Txt x={22} y={384} size={8} rot>RMSD (A)</Txt>
      <Txt x={153} y={454} size={7.5}>Time (ns)</Txt>
      <Txt x={22} y={500} size={8} rot>RMSD (A)</Txt>
      <Txt x={153} y={549} size={7.5}>Time (ns)</Txt>

      {/* D */}
      <GracePanel box={{ l: 400, t: 342, w: 233, h: 179 }} pad={{ l: 40, t: 4, r: 4, b: 14 }} rows={rmsfRows} xKey="res"
        xDomain={[666, 920]} yDomain={[0, 12]} xTicks={range(675, 900, 25)} xStep={50} yTicks={range(0, 12, 1)} yStep={2}
        fs={7.2} gx={1.5} gy={7} sw={1.6} />
      <SeriesLegend l={638} t={353} w={48} h={71} row0={6} step={7.5} fs={7.4} lx={4} lw={6} lt={2} tx={12} />
      <Txt x={373} y={317} size={17} font={SANS} bold>D)</Txt>
      <Txt x={516} y={328} size={10.7}>Androgen Receptor</Txt>
      <Txt x={380} y={431} size={7.7} rot>RMSF (A)</Txt>
      <Txt x={516} y={533} size={7.5}>Residue</Txt>

      <PanelE />
    </div>
  );
}
